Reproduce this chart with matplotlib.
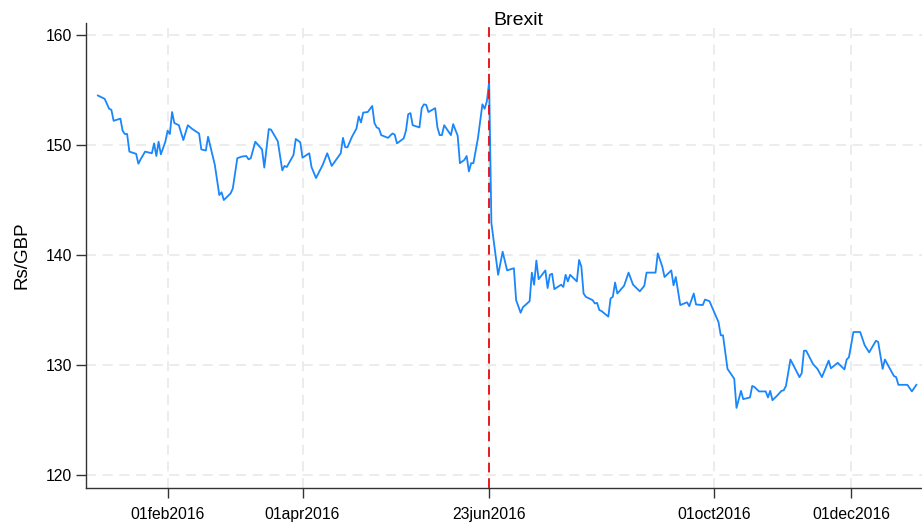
import datetime as dt
import matplotlib
matplotlib.use("Agg")
import matplotlib.pyplot as plt

# Rs/GBP exchange rate through 2016
dates = [
    "2016-01-01", "2016-01-04", "2016-01-06", "2016-01-07", "2016-01-08", "2016-01-11",
    "2016-01-12", "2016-01-13", "2016-01-14", "2016-01-15", "2016-01-18", "2016-01-19",
    "2016-01-20", "2016-01-22", "2016-01-25", "2016-01-26", "2016-01-27", "2016-01-28",
    "2016-01-29", "2016-01-31", "2016-02-01", "2016-02-02", "2016-02-03", "2016-02-04",
    "2016-02-06", "2016-02-08", "2016-02-10", "2016-02-12", "2016-02-15", "2016-02-16",
    "2016-02-18", "2016-02-19", "2016-02-22", "2016-02-24", "2016-02-25", "2016-02-26",
    "2016-02-29", "2016-03-01", "2016-03-03", "2016-03-05", "2016-03-07", "2016-03-08",
    "2016-03-09", "2016-03-11", "2016-03-14", "2016-03-15", "2016-03-17", "2016-03-18",
    "2016-03-21", "2016-03-23", "2016-03-24", "2016-03-25", "2016-03-28", "2016-03-29",
    "2016-03-31", "2016-04-01", "2016-04-04", "2016-04-05", "2016-04-07", "2016-04-10",
    "2016-04-12", "2016-04-14", "2016-04-18", "2016-04-19", "2016-04-20", "2016-04-21",
    "2016-04-23", "2016-04-25", "2016-04-26", "2016-04-27", "2016-04-28", "2016-04-30",
    "2016-05-02", "2016-05-03", "2016-05-04", "2016-05-05", "2016-05-06", "2016-05-09",
    "2016-05-11", "2016-05-12", "2016-05-13", "2016-05-16", "2016-05-17", "2016-05-18",
    "2016-05-19", "2016-05-20", "2016-05-23", "2016-05-24", "2016-05-25", "2016-05-26",
    "2016-05-27", "2016-05-30", "2016-05-31", "2016-06-01", "2016-06-02", "2016-06-03",
    "2016-06-06", "2016-06-07", "2016-06-09", "2016-06-10", "2016-06-12", "2016-06-13",
    "2016-06-14", "2016-06-15", "2016-06-16", "2016-06-18", "2016-06-20", "2016-06-21",
    "2016-06-22", "2016-06-23", "2016-06-24", "2016-06-27", "2016-06-29", "2016-07-01",
    "2016-07-04", "2016-07-05", "2016-07-07", "2016-07-08", "2016-07-11", "2016-07-12",
    "2016-07-13", "2016-07-14", "2016-07-15", "2016-07-18", "2016-07-19", "2016-07-20",
    "2016-07-21", "2016-07-22", "2016-07-25", "2016-07-26", "2016-07-27", "2016-07-28",
    "2016-07-29", "2016-08-01", "2016-08-02", "2016-08-03", "2016-08-04", "2016-08-05",
    "2016-08-08", "2016-08-09", "2016-08-10", "2016-08-11", "2016-08-12", "2016-08-15",
    "2016-08-16", "2016-08-17", "2016-08-18", "2016-08-19", "2016-08-22", "2016-08-24",
    "2016-08-26", "2016-08-29", "2016-08-31", "2016-09-01", "2016-09-05", "2016-09-06",
    "2016-09-08", "2016-09-09", "2016-09-12", "2016-09-13", "2016-09-14", "2016-09-16",
    "2016-09-19", "2016-09-20", "2016-09-22", "2016-09-23", "2016-09-26", "2016-09-27",
    "2016-09-29", "2016-10-03", "2016-10-04", "2016-10-05", "2016-10-07", "2016-10-10",
    "2016-10-11", "2016-10-13", "2016-10-14", "2016-10-17", "2016-10-18", "2016-10-19",
    "2016-10-21", "2016-10-24", "2016-10-25", "2016-10-26", "2016-10-27", "2016-10-29",
    "2016-10-31", "2016-11-01", "2016-11-02", "2016-11-04", "2016-11-05", "2016-11-08",
    "2016-11-09", "2016-11-10", "2016-11-11", "2016-11-14", "2016-11-16", "2016-11-18",
    "2016-11-21", "2016-11-22", "2016-11-25", "2016-11-28", "2016-11-29", "2016-11-30",
    "2016-12-02", "2016-12-05", "2016-12-07", "2016-12-09", "2016-12-12", "2016-12-13",
    "2016-12-15", "2016-12-16", "2016-12-20", "2016-12-21", "2016-12-22", "2016-12-26",
    "2016-12-28", "2016-12-30",
]
rate = [
    154.5, 154.2, 153.3, 153.2, 152.2, 152.4,
    151.3, 151.0, 151.0, 149.4, 149.2, 148.3,
    148.7, 149.4, 149.25, 150.15, 149.0, 150.3,
    149.15, 150.3, 151.3, 151.0, 153.0, 152.0,
    151.8, 150.45, 151.8, 151.45, 151.05, 149.6,
    149.5, 150.75, 148.2, 145.45, 145.7, 145.0,
    145.6, 146.05, 148.8, 148.95, 149.0, 148.7,
    148.8, 150.3, 149.6, 147.95, 151.45, 151.4,
    150.35, 147.7, 148.1, 148.0, 149.1, 150.55,
    150.25, 148.85, 149.25, 148.0, 147.0, 148.2,
    149.25, 148.1, 149.25, 150.65, 149.8, 149.8,
    150.75, 151.5, 152.6, 152.05, 152.95, 153.0,
    153.55, 152.0, 151.6, 151.5, 150.9, 150.65,
    151.05, 150.95, 150.15, 150.6, 151.3, 152.8,
    152.9, 151.8, 151.6, 153.35, 153.7, 153.65,
    153.0, 153.35, 151.6, 150.9, 150.9, 151.8,
    150.9, 151.9, 150.85, 148.35, 148.65, 149.0,
    147.6, 148.35, 148.35, 150.6, 153.7, 153.3,
    154.0, 155.75, 142.9, 138.2, 140.3, 138.6,
    138.8, 135.9, 134.75, 135.25, 135.8, 138.4,
    137.3, 139.5, 137.8, 138.6, 137.0, 138.2,
    138.3, 136.9, 137.3, 137.1, 138.2, 137.6,
    138.2, 137.6, 139.55, 138.95, 136.5, 136.2,
    135.9, 135.6, 135.65, 135.0, 134.9, 134.4,
    136.05, 136.2, 137.5, 136.5, 137.2, 138.4,
    137.3, 136.7, 137.2, 138.4, 138.4, 140.15,
    138.95, 138.0, 138.6, 137.25, 138.0, 135.45,
    135.7, 135.35, 136.5, 135.5, 135.45, 135.95,
    135.8, 133.9, 132.7, 132.7, 129.65, 128.75,
    126.1, 127.65, 126.9, 127.05, 128.1, 128.0,
    127.6, 127.6, 127.05, 127.65, 126.8, 127.2,
    127.65, 127.7, 128.1, 130.5, 130.1, 128.9,
    129.25, 131.3, 131.3, 130.1, 129.65, 128.9,
    130.4, 129.7, 130.2, 129.6, 130.5, 130.7,
    133.0, 133.0, 131.8, 131.15, 132.2, 132.1,
    129.65, 130.5, 129.0, 128.9, 128.2, 128.2,
    127.6, 128.2,
]

tick_dates = ["2016-02-01", "2016-04-01", "2016-06-23", "2016-10-01", "2016-12-01"]
tick_labels = ["01feb2016", "01apr2016", "23jun2016", "01oct2016", "01dec2016"]
brexit_date = "2016-06-23"

plt.rcParams['font.family'] = ['Liberation Sans', 'DejaVu Sans']

x = [dt.datetime.strptime(d, "%Y-%m-%d") for d in dates]
xt = [dt.datetime.strptime(d, "%Y-%m-%d") for d in tick_dates]
xb = dt.datetime.strptime(brexit_date, "%Y-%m-%d")

fig = plt.figure(figsize=(9.22, 5.31), dpi=100)
ax = fig.add_axes([0.093, 0.081, 0.907, 0.875])

ax.plot(x, rate, color="#1a86fb", lw=1.3, zorder=3)
ax.axvline(xb, color="#e8191c", lw=1.4, ls=(0, (5, 3)), zorder=4)
ax.annotate("Brexit", xy=(xb, 1.0), xycoords=("data", "axes fraction"),
            xytext=(4, -2), textcoords="offset pixels", fontsize=14,
            ha="left", va="baseline", annotation_clip=False)

start = dt.datetime(2016, 1, 1)
ax.set_xlim(start - dt.timedelta(days=5.4), start + dt.timedelta(days=366.5))
ax.set_ylim(118.82, 161.06)

ax.set_xticks(xt)
ax.set_xticklabels(tick_labels)
ax.set_yticks([120, 130, 140, 150, 160])
ax.tick_params(labelsize=11.3, length=7, width=1, color="#333333", pad=3)
ax.tick_params(axis="x", pad=7)
ax.set_ylabel("Rs/GBP", fontsize=13.5, labelpad=11)

ax.grid(True, color="#e9e9e9", lw=1.2, ls=(0, (6, 4)))
ax.set_axisbelow(True)
for s in ["top", "right"]:
    ax.spines[s].set_visible(False)
for s in ["left", "bottom"]:
    ax.spines[s].set_color("#333333")
    ax.spines[s].set_linewidth(1.0)

fig.savefig("out.png", dpi=100)
